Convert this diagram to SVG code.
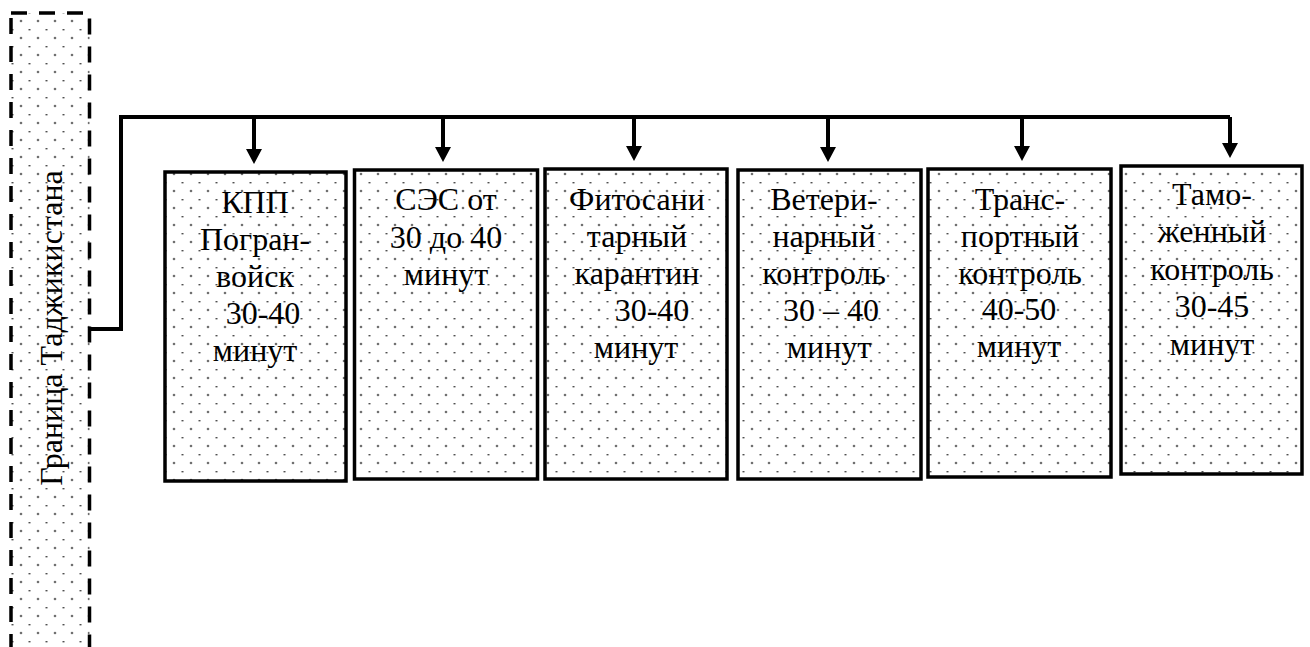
<svg xmlns="http://www.w3.org/2000/svg" width="1310" height="647" viewBox="0 0 1310 647">
<style>
.t{font-family:"Liberation Serif","Times New Roman",Times,serif;font-size:32px;fill:#000;text-anchor:middle}
.box{fill:url(#dots);stroke:#000;stroke-width:3.5}
.ln{fill:none;stroke:#000;stroke-width:4}
.ah{fill:#000}
</style>
<defs>
<pattern id="dots" patternUnits="userSpaceOnUse" width="17" height="17">
<rect width="17" height="17" fill="#fff"/>
<circle cx="4" cy="4" r="1.3" fill="#707070"/>
<rect x="11.5" y="12" width="2" height="1.4" fill="#505050"/>
</pattern>
</defs>
<g id="border">
<rect x="11" y="13" width="78.5" height="660" fill="url(#dots)" stroke="#000" stroke-width="3.5" stroke-dasharray="16 12"/>
<text class="t" transform="translate(62,328) rotate(-90)">Граница Таджикистана</text>
</g>
<g id="connectors">
<polyline class="ln" points="91,329 121,329 121,117 1230,117"/>
<line class="ln" x1="254" y1="117" x2="254" y2="152"/>
<polygon class="ah" points="246,149 262,149 254,164"/>
<line class="ln" x1="443" y1="117" x2="443" y2="150"/>
<polygon class="ah" points="435,147 451,147 443,162"/>
<line class="ln" x1="634" y1="117" x2="634" y2="149"/>
<polygon class="ah" points="626,146 642,146 634,161"/>
<line class="ln" x1="828" y1="117" x2="828" y2="150"/>
<polygon class="ah" points="820,147 836,147 828,162"/>
<line class="ln" x1="1022" y1="117" x2="1022" y2="149"/>
<polygon class="ah" points="1014,146 1030,146 1022,161"/>
<line class="ln" x1="1230" y1="117" x2="1230" y2="146"/>
<polygon class="ah" points="1222,143 1238,143 1230,158"/>
</g>
<g id="n1">
<rect class="box" x="165" y="172" width="181" height="309"/>
<text class="t" x="255" y="213">КПП</text>
<text class="t" x="255" y="250">Погран-</text>
<text class="t" x="255" y="287">войск</text>
<text class="t" x="263" y="324">30-40</text>
<text class="t" x="255" y="361">минут</text>
</g>
<g id="n2">
<rect class="box" x="354.5" y="170" width="183" height="309"/>
<text class="t" x="446" y="210">СЭС от</text>
<text class="t" x="446" y="248">30 до 40</text>
<text class="t" x="446" y="285">минут</text>
</g>
<g id="n3">
<rect class="box" x="545" y="169" width="182" height="310"/>
<text class="t" x="637" y="210">Фитосани</text>
<text class="t" x="637" y="247">тарный</text>
<text class="t" x="637" y="284">карантин</text>
<text class="t" x="652" y="321">30-40</text>
<text class="t" x="636" y="358">минут</text>
</g>
<g id="n4">
<rect class="box" x="738" y="170" width="183" height="309"/>
<text class="t" x="824" y="210">Ветери-</text>
<text class="t" x="824" y="247">нарный</text>
<text class="t" x="824" y="284">контроль</text>
<text class="t" x="831" y="321">30  – 40</text>
<text class="t" x="829" y="358">минут</text>
</g>
<g id="n5">
<rect class="box" x="928" y="169" width="183" height="308"/>
<text class="t" x="1020" y="210">Транс-</text>
<text class="t" x="1020" y="247">портный</text>
<text class="t" x="1020" y="284">контроль</text>
<text class="t" x="1019" y="320">40-50</text>
<text class="t" x="1019" y="357">минут</text>
</g>
<g id="n6">
<rect class="box" x="1121" y="166" width="181" height="308"/>
<text class="t" x="1212" y="205">Тамо-</text>
<text class="t" x="1212" y="242">женный</text>
<text class="t" x="1212" y="280">контроль</text>
<text class="t" x="1212" y="317">30-45</text>
<text class="t" x="1212" y="355">минут</text>
</g>
</svg>
